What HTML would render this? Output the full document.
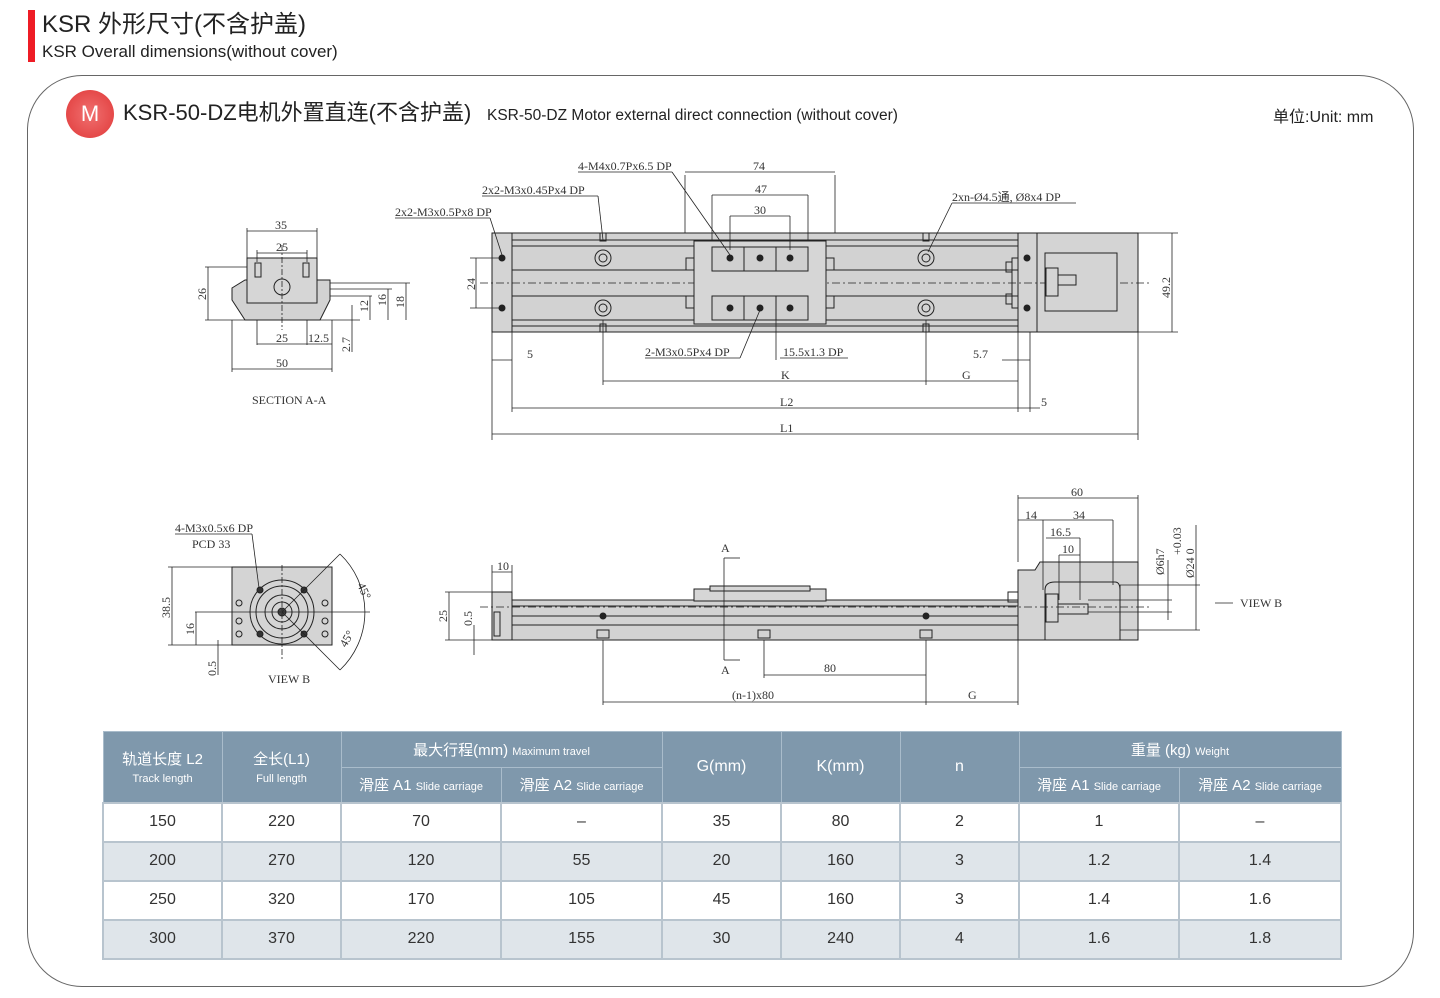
<!DOCTYPE html>
<html><head><meta charset="utf-8"><style>
body{margin:0;width:1440px;height:998px;background:#fff;position:relative;overflow:hidden;font-family:"Liberation Sans","Noto Sans CJK SC",sans-serif;color:#222}
.abs{position:absolute}
table{border-collapse:collapse;position:absolute;left:102px;top:731px;width:1238px;table-layout:fixed}
td{border:2px solid #b8c4ce;text-align:center;font-size:16px;color:#333;height:37px;padding:0}
th{background:#7f98ac;color:#fff;font-weight:normal;border:1px solid #a9bccb;font-size:15px;padding:0}
th small{font-size:11px}
tr.a td{background:#dfe5ea}
</style></head><body>
<div class="abs" style="left:28px;top:10px;width:7px;height:52px;background:#ee1c25"></div>
<div class="abs" style="left:42px;top:10px;font-size:24px;line-height:30px">KSR 外形尺寸(不含护盖)</div>
<div class="abs" style="left:42px;top:42px;font-size:17px;line-height:20px">KSR Overall dimensions(without cover)</div>
<div class="abs" style="left:27px;top:75px;width:1385px;height:910px;border:1.5px solid #666;border-radius:55px"></div>
<div class="abs" style="left:66px;top:90px;width:48px;height:48px;border-radius:50%;background:radial-gradient(circle at 50% 50%,#f07070,#e03838);color:#fff;font-size:22px;text-align:center;line-height:48px">M</div>
<div class="abs" style="left:123px;top:98px;font-size:22px;line-height:30px">KSR-50-DZ电机外置直连(不含护盖)</div>
<div class="abs" style="left:487px;top:106px;font-size:15.5px;line-height:20px">KSR-50-DZ Motor external direct connection (without cover)</div>
<div class="abs" style="left:1273px;top:108px;font-size:16px;line-height:20px">单位:Unit: mm</div>

<svg class="abs" style="left:0;top:0" width="1440" height="730" font-family="Liberation Serif,serif" font-size="11" fill="none" stroke="#222" stroke-width="1">
<rect x="492" y="233" width="646" height="99" fill="#d4d4d4"/>
<rect x="512" y="233" width="506" height="99" fill="#d2d2d2"/>
<line x1="512" y1="240" x2="1018" y2="240"/><line x1="512" y1="246" x2="1018" y2="246"/>
<line x1="512" y1="270" x2="1018" y2="270"/><line x1="512" y1="296" x2="1018" y2="296"/>
<line x1="512" y1="320" x2="1018" y2="320"/><line x1="512" y1="326" x2="1018" y2="326"/>
<line x1="480" y1="283" x2="1150" y2="283" stroke-dasharray="8 3 2 3" stroke-width=".7"/>
<rect x="694" y="241" width="132" height="83" fill="#d6d6d6"/>
<rect x="712" y="247" width="96" height="24" fill="#d0d0d0"/><rect x="712" y="296" width="96" height="24" fill="#d0d0d0"/>
<line x1="744" y1="247" x2="744" y2="271"/><line x1="776" y1="247" x2="776" y2="271"/>
<line x1="744" y1="296" x2="744" y2="320"/><line x1="776" y1="296" x2="776" y2="320"/>
<rect x="686" y="258" width="8" height="12"/><rect x="686" y="296" width="8" height="12"/>
<rect x="826" y="258" width="8" height="12"/><rect x="826" y="296" width="8" height="12"/>
<g fill="#222"><circle cx="730" cy="258" r="3"/><circle cx="760" cy="258" r="3"/><circle cx="790" cy="258" r="3"/><circle cx="730" cy="308" r="3"/><circle cx="760" cy="308" r="3"/><circle cx="790" cy="308" r="3"/>
<circle cx="502" cy="258" r="3"/><circle cx="502" cy="308" r="3"/><circle cx="1027" cy="258" r="3"/><circle cx="1027" cy="308" r="3"/></g>
<g><circle cx="603" cy="258" r="8"/><circle cx="603" cy="258" r="4"/><circle cx="603" cy="308" r="8"/><circle cx="603" cy="308" r="4"/>
<circle cx="926" cy="258" r="8"/><circle cx="926" cy="258" r="4"/><circle cx="926" cy="308" r="8"/><circle cx="926" cy="308" r="4"/>
<rect x="600" y="233" width="6" height="8"/><rect x="600" y="324" width="6" height="8"/><rect x="923" y="233" width="6" height="8"/><rect x="923" y="324" width="6" height="8"/></g>
<line x1="1037" y1="233" x2="1037" y2="332"/>
<rect x="1012" y="258" width="6" height="50"/><rect x="1006" y="262" width="6" height="10"/><rect x="1006" y="294" width="6" height="10"/>
<rect x="1045" y="253" width="72" height="58" fill="#d4d4d4"/><rect x="1046" y="268" width="12" height="28"/><rect x="1058" y="275" width="18" height="10"/>
<g stroke-width=".8">
<line x1="492" y1="332" x2="492" y2="440"/><line x1="1138" y1="332" x2="1138" y2="440"/><line x1="492" y1="434" x2="1138" y2="434"/>
<line x1="512" y1="332" x2="512" y2="412"/><line x1="1018" y1="332" x2="1018" y2="412"/><line x1="512" y1="408" x2="1018" y2="408"/>
<line x1="603" y1="320" x2="603" y2="385"/><line x1="926" y1="320" x2="926" y2="385"/><line x1="603" y1="381" x2="1018" y2="381"/>
<line x1="492" y1="360" x2="512" y2="360"/><line x1="1002" y1="360" x2="1030" y2="360"/><line x1="1030" y1="332" x2="1030" y2="412"/><line x1="1018" y1="408" x2="1040" y2="408"/>
<line x1="685" y1="233" x2="685" y2="175"/><line x1="835" y1="233" x2="835" y2="175"/><line x1="685" y1="172" x2="835" y2="172"/>
<line x1="712" y1="241" x2="712" y2="195"/><line x1="808" y1="241" x2="808" y2="195"/><line x1="712" y1="195" x2="808" y2="195"/>
<line x1="730" y1="250" x2="730" y2="216"/><line x1="790" y1="250" x2="790" y2="216"/><line x1="730" y1="216" x2="790" y2="216"/>
<line x1="1138" y1="233" x2="1178" y2="233"/><line x1="1138" y1="332" x2="1178" y2="332"/><line x1="1172" y1="233" x2="1172" y2="332"/>
<line x1="470" y1="258" x2="500" y2="258"/><line x1="470" y1="308" x2="500" y2="308"/><line x1="476" y1="258" x2="476" y2="308"/>
<line x1="578" y1="172" x2="672" y2="172"/><line x1="672" y1="172" x2="730" y2="255"/>
<line x1="482" y1="196" x2="598" y2="196"/><line x1="598" y1="196" x2="603" y2="240"/>
<line x1="395" y1="218" x2="490" y2="218"/><line x1="490" y1="218" x2="502" y2="255"/>
<line x1="952" y1="203" x2="1076" y2="203"/><line x1="952" y1="203" x2="928" y2="252"/>
<line x1="645" y1="358" x2="740" y2="358"/><line x1="740" y1="358" x2="760" y2="310"/>
<line x1="780" y1="358" x2="848" y2="358"/><line x1="776" y1="320" x2="776" y2="360"/>
</g>
<g fill="#333" stroke="none" font-size="12">
<text x="578" y="170">4-M4x0.7Px6.5 DP</text><text x="482" y="194">2x2-M3x0.45Px4 DP</text><text x="395" y="216">2x2-M3x0.5Px8 DP</text>
<text x="952" y="201">2xn-Ø4.5通, Ø8x4 DP</text><text x="753" y="170">74</text><text x="755" y="193">47</text><text x="754" y="214">30</text>
<text x="645" y="356">2-M3x0.5Px4 DP</text><text x="783" y="356">15.5x1.3 DP</text><text x="527" y="358">5</text><text x="973" y="358">5.7</text>
<text x="781" y="379">K</text><text x="962" y="379">G</text><text x="780" y="406">L2</text><text x="1041" y="406">5</text><text x="780" y="432">L1</text>
<text transform="translate(1170,298) rotate(-90)">49.2</text><text transform="translate(475,290) rotate(-90)">24</text>
</g>
<path d="M232 300 L232 288 L245 280 L330 280 L330 300 L320 320 L245 320 Z" fill="#d2d2d2"/>
<rect x="247" y="258" width="70" height="45" fill="#d6d6d6"/>
<circle cx="282" cy="287" r="8"/><rect x="255" y="263" width="6" height="14"/><rect x="303" y="263" width="6" height="14"/>
<g stroke-width=".8">
<line x1="247" y1="258" x2="247" y2="228"/><line x1="317" y1="258" x2="317" y2="228"/><line x1="247" y1="231" x2="317" y2="231"/>
<line x1="257" y1="262" x2="257" y2="250"/><line x1="307" y1="262" x2="307" y2="250"/><line x1="257" y1="253" x2="307" y2="253"/>
<line x1="232" y1="320" x2="232" y2="372"/><line x1="332" y1="320" x2="332" y2="372"/><line x1="232" y1="369" x2="332" y2="369"/>
<line x1="257" y1="320" x2="257" y2="345"/><line x1="307" y1="320" x2="307" y2="345"/><line x1="257" y1="344" x2="332" y2="344"/>
<line x1="205" y1="267" x2="247" y2="267"/><line x1="205" y1="320" x2="360" y2="320"/><line x1="208" y1="267" x2="208" y2="320"/>
<line x1="330" y1="283" x2="410" y2="283"/><line x1="406" y1="283" x2="406" y2="320"/><line x1="330" y1="289" x2="392" y2="289"/><line x1="388" y1="289" x2="388" y2="320"/>
<line x1="330" y1="296" x2="372" y2="296"/><line x1="370" y1="296" x2="370" y2="320"/><line x1="352" y1="305" x2="352" y2="352"/>
<line x1="282" y1="245" x2="282" y2="330" stroke-dasharray="6 2 2 2"/>
</g>
<g fill="#333" stroke="none" font-size="12">
<text x="275" y="229">35</text><text x="276" y="251">25</text><text x="276" y="342">25</text><text x="308" y="342">12.5</text><text x="276" y="367">50</text>
<text x="252" y="404">SECTION A-A</text>
<text transform="translate(206,300) rotate(-90)">26</text><text transform="translate(404,308) rotate(-90)">18</text><text transform="translate(386,306) rotate(-90)">16</text><text transform="translate(368,312) rotate(-90)">12</text><text transform="translate(350,352) rotate(-90)">2.7</text>
</g>
<rect x="232" y="567" width="100" height="78" fill="#d4d4d4"/>
<circle cx="282" cy="612" r="32"/><circle cx="282" cy="612" r="26"/><circle cx="282" cy="612" r="17"/><circle cx="282" cy="612" r="10"/><circle cx="282" cy="612" r="4" fill="#444"/>
<g fill="#333"><circle cx="260" cy="590" r="3"/><circle cx="304" cy="590" r="3"/><circle cx="260" cy="634" r="3"/><circle cx="304" cy="634" r="3"/></g>
<circle cx="239" cy="603" r="3"/><circle cx="239" cy="621" r="3"/><circle cx="239" cy="634" r="3"/><circle cx="325" cy="603" r="3"/><circle cx="325" cy="621" r="3"/><circle cx="325" cy="634" r="3"/>
<g stroke-width=".8">
<line x1="282" y1="565" x2="282" y2="660" stroke-dasharray="6 2 2 2"/><line x1="195" y1="612" x2="370" y2="612"/>
<line x1="282" y1="612" x2="340" y2="554"/><line x1="282" y1="612" x2="340" y2="670"/><path d="M340 554 A80 80 0 0 1 340 670"/>
<line x1="168" y1="567" x2="232" y2="567"/><line x1="168" y1="645" x2="232" y2="645"/><line x1="172" y1="567" x2="172" y2="645"/><line x1="196" y1="612" x2="196" y2="645"/><line x1="218" y1="640" x2="218" y2="675"/>
<line x1="175" y1="534" x2="252" y2="534"/><line x1="252" y1="534" x2="259" y2="588"/>
</g>
<g fill="#333" stroke="none" font-size="12">
<text x="175" y="532">4-M3x0.5x6 DP</text><text x="192" y="548">PCD 33</text><text x="268" y="683">VIEW B</text>
<text transform="translate(170,618) rotate(-90)">38.5</text><text transform="translate(194,635) rotate(-90)">16</text><text transform="translate(216,676) rotate(-90)">0.5</text>
<text transform="translate(357,585) rotate(65)">45°</text><text transform="translate(346,648) rotate(-60)">45°</text>
</g>
<rect x="492" y="592" width="20" height="48" fill="#d4d4d4"/><rect x="494" y="612" width="6" height="24"/>
<rect x="512" y="600" width="506" height="40" fill="#d2d2d2"/>
<line x1="512" y1="606" x2="1018" y2="606"/><line x1="512" y1="616" x2="1018" y2="616"/><line x1="512" y1="625" x2="1018" y2="625"/>
<rect x="694" y="589" width="132" height="12" fill="#d6d6d6"/><rect x="710" y="586" width="100" height="5" fill="#d6d6d6"/>
<path d="M1018 640 L1018 570 L1035 570 L1040 562 L1138 562 L1138 640 Z" fill="#d4d4d4"/>
<line x1="1120" y1="585" x2="1120" y2="640"/><path d="M1045 640 L1045 590 Q1045 582 1055 582 L1115 582 Q1120 582 1120 590"/>
<rect x="1046" y="594" width="12" height="28"/><rect x="1058" y="604" width="30" height="10"/>
<rect x="1008" y="592" width="10" height="10"/>
<g fill="#222"><circle cx="603" cy="616" r="3"/><circle cx="926" cy="616" r="3"/></g>
<rect x="597" y="630" width="12" height="8"/><rect x="758" y="630" width="12" height="8"/><rect x="920" y="630" width="12" height="8"/>
<line x1="480" y1="607" x2="1150" y2="607" stroke-dasharray="8 3 2 3" stroke-width=".7"/>
<g stroke-width=".8">
<line x1="724" y1="558" x2="724" y2="660"/><line x1="724" y1="558" x2="740" y2="558"/><line x1="724" y1="660" x2="740" y2="660"/>
<line x1="603" y1="640" x2="603" y2="705"/><line x1="926" y1="640" x2="926" y2="705"/><line x1="1018" y1="640" x2="1018" y2="705"/><line x1="603" y1="702" x2="1018" y2="702"/>
<line x1="764" y1="640" x2="764" y2="678"/><line x1="764" y1="675" x2="926" y2="675"/>
<line x1="492" y1="592" x2="492" y2="565"/><line x1="512" y1="592" x2="512" y2="565"/><line x1="492" y1="572" x2="512" y2="572"/>
<line x1="445" y1="592" x2="492" y2="592"/><line x1="445" y1="640" x2="492" y2="640"/><line x1="449" y1="592" x2="449" y2="640"/><line x1="474" y1="625" x2="474" y2="655"/>
<line x1="1018" y1="562" x2="1018" y2="495"/><line x1="1138" y1="562" x2="1138" y2="495"/><line x1="1018" y1="498" x2="1138" y2="498"/>
<line x1="1018" y1="520" x2="1113" y2="520"/><line x1="1113" y1="520" x2="1113" y2="585"/><line x1="1043" y1="520" x2="1043" y2="590"/>
<line x1="1046" y1="538" x2="1080" y2="538"/><line x1="1080" y1="538" x2="1080" y2="600"/><line x1="1059" y1="555" x2="1080" y2="555"/><line x1="1059" y1="555" x2="1059" y2="600"/>
<line x1="1120" y1="585" x2="1200" y2="585"/><line x1="1120" y1="630" x2="1200" y2="630"/><line x1="1196" y1="525" x2="1196" y2="630"/>
<line x1="1088" y1="600" x2="1172" y2="600"/><line x1="1088" y1="612" x2="1172" y2="612"/><line x1="1168" y1="560" x2="1168" y2="620"/>
<line x1="1215" y1="603" x2="1233" y2="603"/>
</g>
<g fill="#333" stroke="none" font-size="12">
<text x="721" y="552">A</text><text x="721" y="674">A</text><text x="824" y="672">80</text><text x="732" y="699">(n-1)x80</text><text x="968" y="699">G</text>
<text x="497" y="570">10</text><text x="1071" y="496">60</text><text x="1025" y="519">14</text><text x="1073" y="519">34</text><text x="1050" y="536">16.5</text><text x="1062" y="553">10</text>
<text x="1240" y="607">VIEW B</text>
<text transform="translate(447,622) rotate(-90)">25</text><text transform="translate(472,626) rotate(-90)">0.5</text>
<text transform="translate(1164,575) rotate(-90)">Ø6h7</text><text transform="translate(1181,555) rotate(-90)">+0.03</text><text transform="translate(1194,578) rotate(-90)">Ø24 0</text>
</g>
</svg>

<table>
<colgroup><col style="width:119px"><col style="width:119px"><col style="width:160px"><col style="width:161px"><col style="width:119px"><col style="width:119px"><col style="width:119px"><col style="width:160px"><col style="width:162px"></colgroup>
<tr style="height:36px"><th rowspan="2">轨道长度 L2<br><small>Track length</small></th><th rowspan="2">全长(L1)<br><small>Full length</small></th><th colspan="2">最大行程(mm) <small>Maximum travel</small></th><th rowspan="2" style="font-size:16px">G(mm)</th><th rowspan="2" style="font-size:16px">K(mm)</th><th rowspan="2" style="font-size:16px">n</th><th colspan="2">重量 (kg) <small>Weight</small></th></tr>
<tr style="height:35px"><th>滑座 A1 <small>Slide carriage</small></th><th>滑座 A2 <small>Slide carriage</small></th><th>滑座 A1 <small>Slide carriage</small></th><th>滑座 A2 <small>Slide carriage</small></th></tr>
<tr><td>150</td><td>220</td><td>70</td><td>–</td><td>35</td><td>80</td><td>2</td><td>1</td><td>–</td></tr>
<tr class="a"><td>200</td><td>270</td><td>120</td><td>55</td><td>20</td><td>160</td><td>3</td><td>1.2</td><td>1.4</td></tr>
<tr><td>250</td><td>320</td><td>170</td><td>105</td><td>45</td><td>160</td><td>3</td><td>1.4</td><td>1.6</td></tr>
<tr class="a"><td>300</td><td>370</td><td>220</td><td>155</td><td>30</td><td>240</td><td>4</td><td>1.6</td><td>1.8</td></tr>
</table>
</body></html>
